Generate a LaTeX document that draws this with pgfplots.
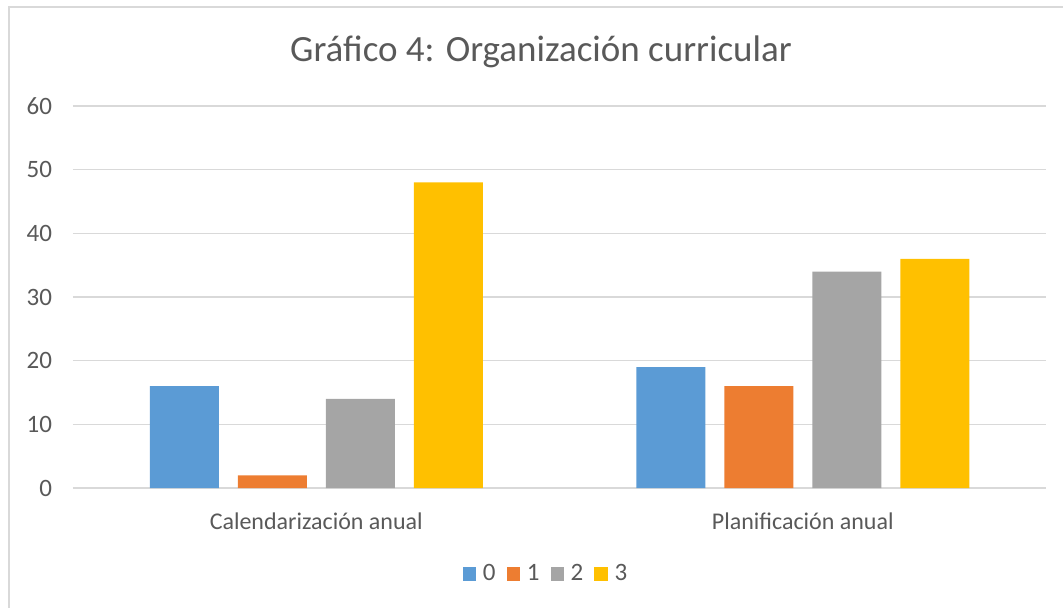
\documentclass[border=0pt]{standalone}
\usepackage{fontspec}
\setmainfont{Carlito}
\usepackage{pgfplots}
\pgfplotsset{compat=1.18}
\definecolor{c0}{HTML}{5B9BD5}
\definecolor{c1}{HTML}{ED7D31}
\definecolor{c2}{HTML}{A5A5A5}
\definecolor{c3}{HTML}{FFC000}
\definecolor{gridc}{HTML}{D9D9D9}
\definecolor{txt}{HTML}{595959}

\begin{document}
\begin{tikzpicture}
\path[use as bounding box] (-36.5pt,-59.5pt) rectangle (495pt,244pt);
\draw[gridc, line width=0.75pt] (-32pt,-60pt) -- (-32pt,240.5pt) -- (496pt,240.5pt);
\begin{axis}[
    scale only axis,
    width=486.5pt,
    height=191pt,
    ybar=9.5pt,
    bar width=34.5pt,
    xmin=-0.5, xmax=1.5,
    ymin=0, ymax=60,
    ytick={0,10,20,30,40,50,60},
    xtick=data,
    xticklabels={Calendarización anual, Planificación anual},
    axis line style={draw=none},
    ymajorgrids,
    grid style={draw=gridc, line width=0.75pt},
    major tick length=0pt,
    /pgf/number format/assume math mode=true,
    tick label style={font=\fontsize{12.5}{14}\selectfont, text=txt},
    yticklabel style={anchor=east, xshift=-7pt},
    xticklabel style={anchor=center, yshift=-16.5pt, font=\fontsize{12}{14}\selectfont},
    legend style={
        at={(237pt,-43pt)}, anchor=center,
        legend columns=4,
        draw=none, fill=none,
        font=\fontsize{12.5}{14}\selectfont, text=txt,
        /tikz/every odd column/.append style={column sep=1.5pt},
        /tikz/every even column/.append style={column sep=3.5pt},
    },
    legend image code/.code={\fill[#1] (0pt,-3.3pt) rectangle (6.6pt,3.3pt);},
]
\addplot[fill=c0, draw=none] coordinates {(0,16) (1,19)};
\addplot[fill=c1, draw=none] coordinates {(0,2) (1,16)};
\addplot[fill=c2, draw=none] coordinates {(0,14) (1,34)};
\addplot[fill=c3, draw=none] coordinates {(0,48) (1,36)};
\legend{0,1,2,3}
\end{axis}
\node[text=txt, font=\fontsize{18.5}{22}\selectfont] at (234pt,218pt) {Gráfico 4: Organización curricular};
\end{tikzpicture}
\end{document}
